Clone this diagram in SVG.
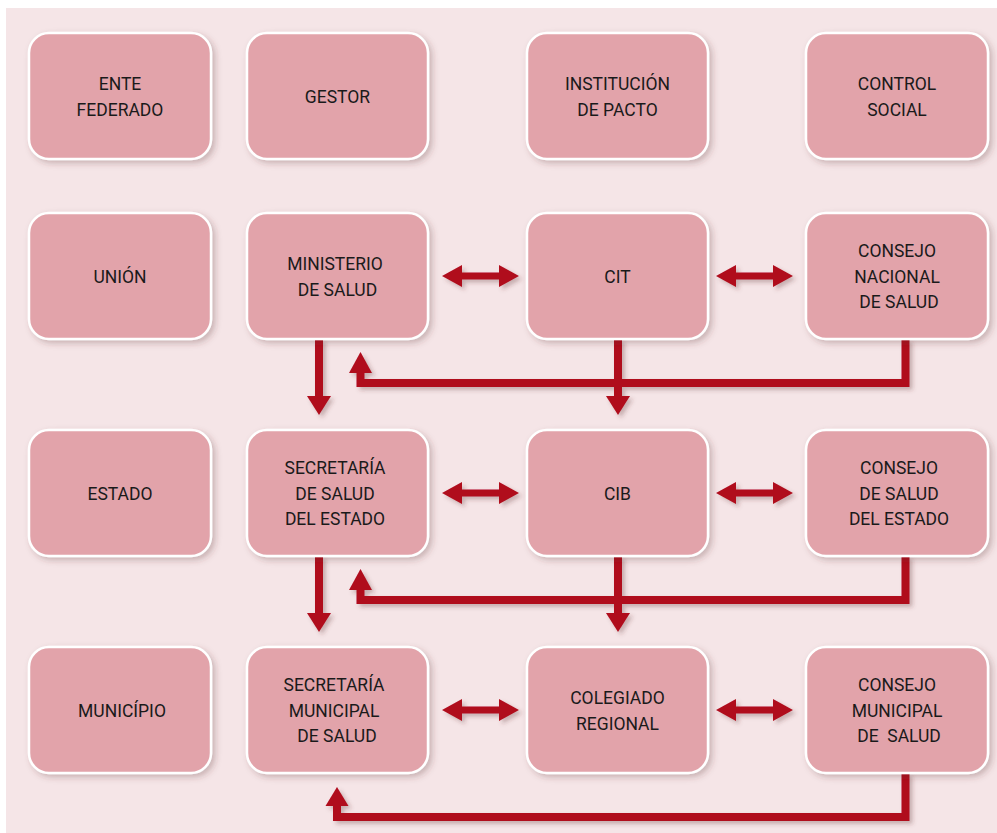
<svg xmlns="http://www.w3.org/2000/svg" width="997" height="833" viewBox="0 0 997 833">
<defs>
<filter id="sh" x="-10%" y="-10%" width="130%" height="130%">
<feDropShadow dx="3" dy="3" stdDeviation="3" flood-color="#5a2a30" flood-opacity="0.28"/>
</filter>
<filter id="ash" x="-10%" y="-10%" width="130%" height="130%">
<feDropShadow dx="3" dy="3" stdDeviation="2" flood-color="#5a2a30" flood-opacity="0.3"/>
</filter>
<style>
.box{fill:#e2a3aa;stroke:#ffffff;stroke-width:2.5;filter:url(#sh)}
.t{font-family:Roboto,"Liberation Sans",sans-serif;font-size:17.5px;fill:#1a1a1a;text-anchor:middle}
.ln{fill:none;stroke:#b00a1e;stroke-width:8;stroke-linejoin:miter}
.ah{fill:#b00a1e}
</style>
</defs>
<rect x="6" y="8" width="991" height="825" fill="#f5e5e7"/>

<g id="connectors" filter="url(#ash)">
<!-- horizontal double arrows -->
<path class="ah" d="M442,276 L462,265 L462,272.5 L499,272.5 L499,265 L519,276 L499,287 L499,279.5 L462,279.5 L462,287 Z"/>
<path class="ah" d="M716,276 L736,265 L736,272.5 L773,272.5 L773,265 L793,276 L773,287 L773,279.5 L736,279.5 L736,287 Z"/>
<path class="ah" d="M442,493 L462,482 L462,489.5 L499,489.5 L499,482 L519,493 L499,504 L499,496.5 L462,496.5 L462,504 Z"/>
<path class="ah" d="M716,493 L736,482 L736,489.5 L773,489.5 L773,482 L793,493 L773,504 L773,496.5 L736,496.5 L736,504 Z"/>
<path class="ah" d="M442,710 L462,699 L462,706.5 L499,706.5 L499,699 L519,710 L499,721 L499,713.5 L462,713.5 L462,721 Z"/>
<path class="ah" d="M716,710 L736,699 L736,706.5 L773,706.5 L773,699 L793,710 L773,721 L773,713.5 L736,713.5 L736,721 Z"/>
<!-- row 1 to row 2 -->
<path class="ln" d="M905.5,339 L905.5,383 L360.5,383 L360.5,372"/>
<path class="ah" d="M349,373 L372,373 L360.5,352 Z"/>
<path class="ln" d="M319,339 L319,397"/>
<path class="ah" d="M307,396 L331,396 L319,415 Z"/>
<path class="ln" d="M618,339 L618,397"/>
<path class="ah" d="M606,396 L630,396 L618,415 Z"/>
<!-- row 2 to row 3 -->
<path class="ln" d="M905.5,556 L905.5,600 L360.5,600 L360.5,589"/>
<path class="ah" d="M349,590 L372,590 L360.5,569 Z"/>
<path class="ln" d="M319,556 L319,614"/>
<path class="ah" d="M307,613 L331,613 L319,632 Z"/>
<path class="ln" d="M618,556 L618,614"/>
<path class="ah" d="M606,613 L630,613 L618,632 Z"/>
<!-- row 3 bottom return -->
<path class="ln" d="M905.5,773 L905.5,817 L337,817 L337,805"/>
<path class="ah" d="M325.5,806 L348.5,806 L337,787 Z"/>
</g>

<g id="n-ente">
<rect class="box" x="29" y="33" width="182" height="126" rx="20"/>
<text class="t" x="120" y="90">ENTE</text>
<text class="t" x="120" y="115.5">FEDERADO</text>
</g>
<g id="n-gestor">
<rect class="box" x="247" y="33" width="181" height="126" rx="20"/>
<text class="t" x="337.5" y="102.5">GESTOR</text>
</g>
<g id="n-institucion">
<rect class="box" x="527" y="33" width="181" height="126" rx="20"/>
<text class="t" x="617.5" y="90">INSTITUCIÓN</text>
<text class="t" x="617.5" y="115.5">DE PACTO</text>
</g>
<g id="n-control">
<rect class="box" x="806" y="33" width="182" height="126" rx="20"/>
<text class="t" x="897" y="90">CONTROL</text>
<text class="t" x="897" y="115.5">SOCIAL</text>
</g>

<g id="n-union">
<rect class="box" x="29" y="213" width="182" height="126" rx="20"/>
<text class="t" x="120" y="282.5">UNIÓN</text>
</g>
<g id="n-ministerio">
<rect class="box" x="247" y="213" width="181" height="126" rx="20"/>
<text class="t" x="335" y="270">MINISTERIO</text>
<text class="t" x="337.5" y="295.5">DE SALUD</text>
</g>
<g id="n-cit">
<rect class="box" x="527" y="213" width="181" height="126" rx="20"/>
<text class="t" x="617.5" y="282.5">CIT</text>
</g>
<g id="n-cns">
<rect class="box" x="806" y="213" width="182" height="126" rx="20"/>
<text class="t" x="897" y="257">CONSEJO</text>
<text class="t" x="897" y="282.5">NACIONAL</text>
<text class="t" x="899" y="308">DE SALUD</text>
</g>

<g id="n-estado">
<rect class="box" x="29" y="430" width="182" height="126" rx="20"/>
<text class="t" x="120" y="499.5">ESTADO</text>
</g>
<g id="n-sse">
<rect class="box" x="247" y="430" width="181" height="126" rx="20"/>
<text class="t" x="335" y="474">SECRETARÍA</text>
<text class="t" x="335" y="499.5">DE SALUD</text>
<text class="t" x="335" y="525">DEL ESTADO</text>
</g>
<g id="n-cib">
<rect class="box" x="527" y="430" width="181" height="126" rx="20"/>
<text class="t" x="617.5" y="499.5">CIB</text>
</g>
<g id="n-cse">
<rect class="box" x="806" y="430" width="182" height="126" rx="20"/>
<text class="t" x="899" y="474">CONSEJO</text>
<text class="t" x="899" y="499.5">DE SALUD</text>
<text class="t" x="899" y="525">DEL ESTADO</text>
</g>

<g id="n-municipio">
<rect class="box" x="29" y="647" width="182" height="126" rx="20"/>
<text class="t" x="122" y="716.5">MUNICÍPIO</text>
</g>
<g id="n-smsalud">
<rect class="box" x="247" y="647" width="181" height="126" rx="20"/>
<text class="t" x="334" y="691">SECRETARÍA</text>
<text class="t" x="334" y="716.5">MUNICIPAL</text>
<text class="t" x="337" y="742">DE SALUD</text>
</g>
<g id="n-colegiado">
<rect class="box" x="527" y="647" width="181" height="126" rx="20"/>
<text class="t" x="617.5" y="704">COLEGIADO</text>
<text class="t" x="617.5" y="729.5">REGIONAL</text>
</g>
<g id="n-cms">
<rect class="box" x="806" y="647" width="182" height="126" rx="20"/>
<text class="t" x="897" y="691">CONSEJO</text>
<text class="t" x="897" y="716.5">MUNICIPAL</text>
<text class="t" x="899" y="742" xml:space="preserve">DE  SALUD</text>
</g>
</svg>
